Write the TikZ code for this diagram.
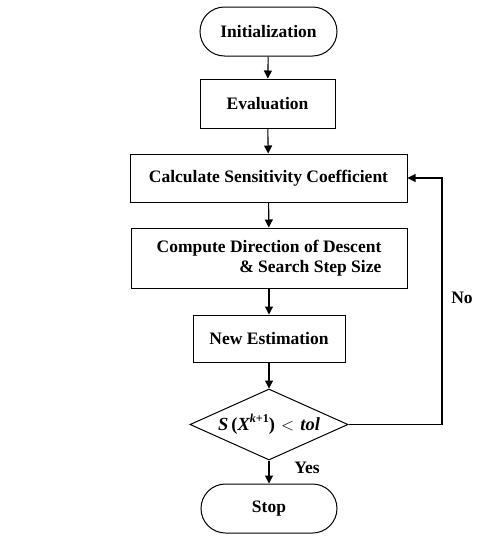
\documentclass[tikz,border=0pt]{standalone}
\usepackage{fontspec}
\setmainfont{Liberation Serif}
\usetikzlibrary{shapes.geometric,shapes.misc,arrows.meta}
\begin{document}
\begin{tikzpicture}[x=1pt,y=-1pt,
  every node/.style={font=\fontsize{17.5}{20}\selectfont\bfseries},
  box/.style={draw,line width=1pt,rectangle,inner sep=0pt},
  term/.style={draw,line width=1pt,rounded rectangle,inner sep=0pt},
  dec/.style={draw,line width=1pt,diamond,inner sep=0pt},
  conn/.style={line width=1.1pt,-{Triangle[length=8pt,width=8pt]}},
  plain/.style={line width=1.1pt}]
\useasboundingbox (0,0) rectangle (480,536);
\node[term,minimum width=137pt,minimum height=49pt] (init) at (268.5,31.5) {Initialization};
\node[box,minimum width=135pt,minimum height=49pt] (eval) at (267.5,103.5) {Evaluation};
\node[box,minimum width=277pt,minimum height=48pt] (calc) at (268.5,178) {Calculate Sensitivity Coefficient};
\node[box,minimum width=276pt,minimum height=60pt,align=right] (comp) at (269,258) {Compute Direction of Descent\\\& Search Step Size};
\node[box,minimum width=152pt,minimum height=47pt] (newe) at (269,338.5) {New Estimation};
\node[dec,minimum width=158pt,minimum height=71pt,aspect=2.2,font=\fontsize{18.5}{20}\selectfont\bfseries] (dec) at (269,424.5) {{\itshape S}\,({\itshape X}\raisebox{0.45em}{\fontsize{12}{12}\selectfont{\itshape k}+1})\,\,$<$\,\,{\itshape tol}};
\node[term,minimum width=136pt,minimum height=49pt] (stop) at (269,508.5) {Stop};
\coordinate (c1) at (442,424.5);
\coordinate (c2) at (442,178);
\draw[conn] (init) -- (eval);
\draw[conn] (eval) -- (calc);
\draw[conn] (calc) -- (comp);
\draw[conn] (comp) -- (newe);
\draw[conn] (newe) -- (dec);
\draw[conn] (dec) -- (stop);
\draw[plain] (dec.east) -- (c1);
\draw[conn] (c1) -- (c2) -- (calc.east);
\node (no) at (462,298) {No};
\node (yes) at (307,468) {Yes};
\end{tikzpicture}
\end{document}
